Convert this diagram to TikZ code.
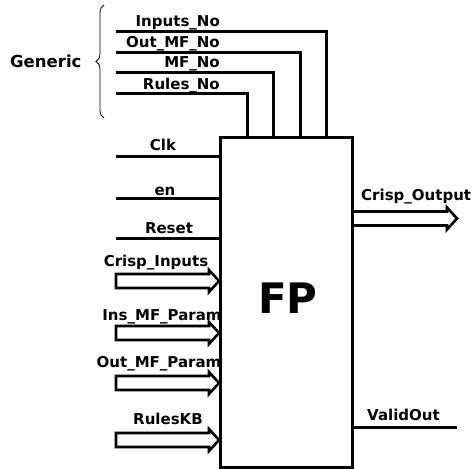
\documentclass[tikz,border=0pt]{standalone}
\usepackage{fontspec}
\setmainfont{DejaVu Sans}
\usetikzlibrary{decorations.pathreplacing}
\begin{document}
\begin{tikzpicture}[x=1pt,y=-1pt,
  wire/.style={line width=3pt},
  fat/.style={line width=2.6pt,line join=miter},
  lbl/.style={inner sep=0pt,font=\bfseries\fontsize{15}{18}\selectfont},
  blk/.style={draw,line width=3pt,minimum width=132pt,minimum height=330pt,inner sep=0pt,anchor=north west}]
\useasboundingbox (0,0) rectangle (473,468);
\node[blk] (fp) at (219,136) {};
\node[inner sep=0pt,anchor=base west,font=\bfseries\fontsize{42}{48}\selectfont] (fpl) at (258,313) {FP};
% generic
\draw[line width=0.8pt,decoration={brace,amplitude=8pt},decorate] (104,118) -- (104,5);
\node[lbl,anchor=base west,font=\bfseries\fontsize{16.5}{20}\selectfont] (gen) at (10,68) {Generic};
\coordinate (g1) at (116,32);
\coordinate (g2) at (116,53);
\coordinate (g3) at (116,73);
\coordinate (g4) at (116,94);
\draw[wire] (g1) -| ([xshift=107pt]fp.north west);
\draw[wire] (g2) -| ([xshift=81pt]fp.north west);
\draw[wire] (g3) -| ([xshift=54pt]fp.north west);
\draw[wire] (g4) -| ([xshift=28pt]fp.north west);
\node[lbl,anchor=base east] (t1) at (220,27) {Inputs\_No};
\node[lbl,anchor=base east] (t2) at (220,48) {Out\_MF\_No};
\node[lbl,anchor=base east] (t3) at (220,68) {MF\_No};
\node[lbl,anchor=base east] (t4) at (220,89) {Rules\_No};
% single inputs
\coordinate (clk) at (116,156);
\coordinate (en) at (116,198);
\coordinate (rst) at (116,238);
\draw[wire] (clk) -- (clk -| fp.west);
\draw[wire] (en) -- (en -| fp.west);
\draw[wire] (rst) -- (rst -| fp.west);
\node[lbl,anchor=base] (tclk) at (163,150) {Clk};
\node[lbl,anchor=base] (ten) at (165,195) {en};
\node[lbl,anchor=base] (trst) at (169,233) {Reset};
% bus inputs
\foreach \n/\yc in {ci/281,im/333,om/383,kb/440}{
  \coordinate (\n) at (116,\yc);
  \draw[fat] (\n) ++(0,-7) -- ++(93,0) -- ++(0,-4) -- (\n -| fp.west) -- ([xshift=93pt,yshift=-11pt]\n) -- ++(0,-4) -- ++(-93,0) -- cycle;
}
\node[lbl,anchor=base] (tci) at (156,266) {Crisp\_Inputs};
\node[lbl,anchor=base] (tim) at (162,320) {Ins\_MF\_Param};
\node[lbl,anchor=base] (tom) at (159,367) {Out\_MF\_Param};
\node[lbl,anchor=base] (tkb) at (168,424) {RulesKB};
% outputs
\coordinate (co) at (457,218.5);
\coordinate (coh) at (447,218.5);
\draw[fat] ([yshift=7pt]co -| fp.east) -- ([yshift=7pt]coh) -- ([yshift=11pt]coh) -- (co) -- ([yshift=-11pt]coh) -- ([yshift=-7pt]coh) -- ([yshift=-7pt]co -| fp.east);
\node[lbl,anchor=base west] (tco) at (361,200) {Crisp\_Output};
\coordinate (vo) at (457,427);
\draw[wire] (vo -| fp.east) -- (vo);
\node[lbl,anchor=base west] (tvo) at (367,420) {ValidOut};
\end{tikzpicture}
\end{document}
